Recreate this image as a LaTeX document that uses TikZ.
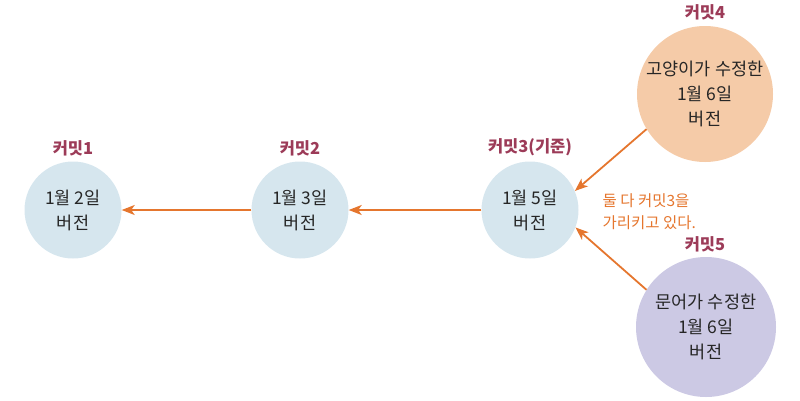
\documentclass[tikz,border=0pt]{standalone}
\usepackage{fontspec}
\setmainfont{Noto Sans CJK KR}
\usetikzlibrary{arrows.meta}
\definecolor{cblue}{HTML}{D6E6EE}
\definecolor{cpeach}{HTML}{F5CBA8}
\definecolor{clav}{HTML}{CCC9E4}
\definecolor{clabel}{HTML}{9C3B58}
\definecolor{corange}{HTML}{E5762E}
\tikzset{
  commit/.style={circle, draw=none, inner sep=0pt, align=center, font=\fontsize{17.5}{25}\selectfont, text=black!85},
  ctitle/.style={font=\fontsize{16.5}{18}\selectfont\bfseries, text=clabel},
  link/.style={draw=corange, line width=1.8pt, -{Stealth[length=13pt,width=10pt,inset=3.5pt]}},
  note/.style={font=\fontsize{15.5}{22}\selectfont, text=corange, align=left, anchor=west}
}
\begin{document}
\begin{tikzpicture}[x=1pt,y=-1pt]
\useasboundingbox (0,0) rectangle (800,400);
\node[commit, fill=cblue, minimum size=97pt] (c1) at (73,210) {1월 2일\\버전};
\node[commit, fill=cblue, minimum size=97pt] (c2) at (300,210) {1월 3일\\버전};
\node[commit, fill=cblue, minimum size=97pt] (c3) at (530,210) {1월 5일\\버전};
\node[commit, fill=cpeach, minimum size=136pt] (c4) at (705,94) {고양이가 수정한\\1월 6일\\버전};
\node[commit, fill=clav, minimum size=140pt] (c5) at (706,327) {문어가 수정한\\1월 6일\\버전};
\node[ctitle] (t1) at (73,148) {커밋1};
\node[ctitle] (t2) at (300,148) {커밋2};
\node[ctitle] (t3) at (530,147) {커밋3(기준)};
\node[ctitle] (t4) at (705,12) {커밋4};
\node[ctitle] (t5) at (705,244) {커밋5};
\node[note] (n) at (599,212) {둘 다 커밋3을\\가리키고 있다.};
\draw[link] (c2.west) -- (c1.east);
\draw[link] (c3.west) -- (c2.east);
\draw[link] (c4.211) -- (c3.23);
\draw[link] (c5.148) -- (c3.-21);
\end{tikzpicture}
\end{document}
